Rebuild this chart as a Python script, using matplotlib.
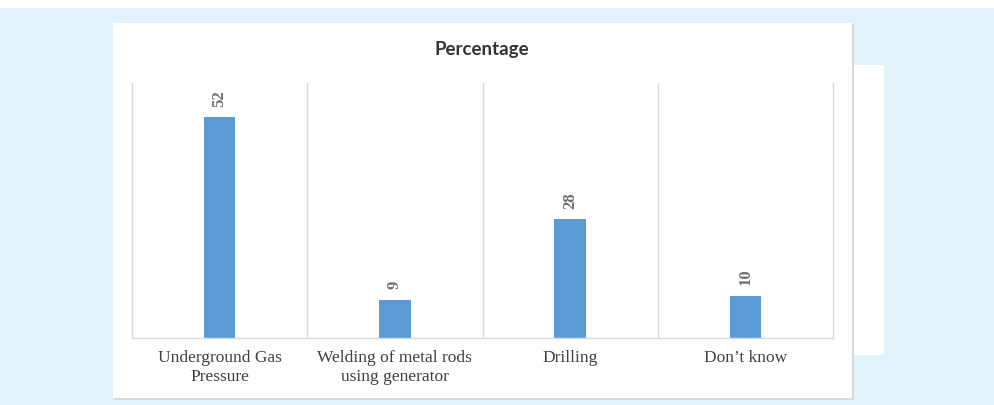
import matplotlib
matplotlib.use("Agg")
import matplotlib.pyplot as plt
from matplotlib.patches import Rectangle

categories = ["Underground Gas\nPressure", "Welding of metal rods\nusing generator", "Drilling", "Don\u2019t know"]
values = [52, 9, 28, 10]
title = "Percentage"

W, H = 994, 405
fig = plt.figure(figsize=(W / 100, H / 100), dpi=100)
fig.patch.set_facecolor("white")

def px_rect(x0, y0, x1, y1, **kw):
    fig.patches.append(Rectangle((x0 / W, 1 - y1 / H), (x1 - x0) / W, (y1 - y0) / H,
                                 transform=fig.transFigure, figure=fig, **kw))

# light blue background
px_rect(0, 8, W, H, facecolor="#e1f2fa", edgecolor="none", zorder=0)
# extra white strip to the right
px_rect(852, 65, 884, 355, facecolor="white", edgecolor="none", zorder=1)
# panel shadow and panel
px_rect(114, 24, 854, 400, facecolor="#d9d9d9", edgecolor="none", zorder=1)
px_rect(113, 23, 852, 398, facecolor="white", edgecolor="none", zorder=2)

ax = fig.add_axes([132 / W, (H - 338) / H, (833 - 132) / W, (338 - 83) / H], zorder=3)
ax.set_facecolor("none")
x = list(range(len(values)))
bars = ax.bar(x, values, width=0.18, color="#5b9bd5", zorder=2)
ax.set_xlim(-0.5, len(values) - 0.5)
ax.set_ylim(0, 60)

for b, v in zip(bars, values):
    ax.annotate(str(v), (b.get_x() + b.get_width() / 2, v), xytext=(0, 7.5),
                textcoords="offset points", rotation=90, ha="center", va="bottom",
                fontsize=12, fontweight="bold", family="Liberation Serif", color="#6e6e6e")

for xb in [0.5, 1.5, 2.5]:
    ax.axvline(xb, color="#d9d9d9", lw=1.0, zorder=1)

for s in ["left", "right", "bottom"]:
    ax.spines[s].set_color("#d9d9d9")
    ax.spines[s].set_linewidth(1.0)
ax.spines["top"].set_visible(False)
ax.set_yticks([])
ax.set_xticks(x)
ax.set_xticklabels(categories, family="Liberation Serif", fontsize=12.5, color="#404040",
                   linespacing=1.2)
ax.tick_params(axis="x", length=0, pad=9)

fig.text(482 / W, 1 - 49 / H, title, ha="center", va="center", fontsize=13.5,
         fontweight="bold", family="Lato", color="#333333", zorder=5)

fig.savefig("out.png", dpi=100)
